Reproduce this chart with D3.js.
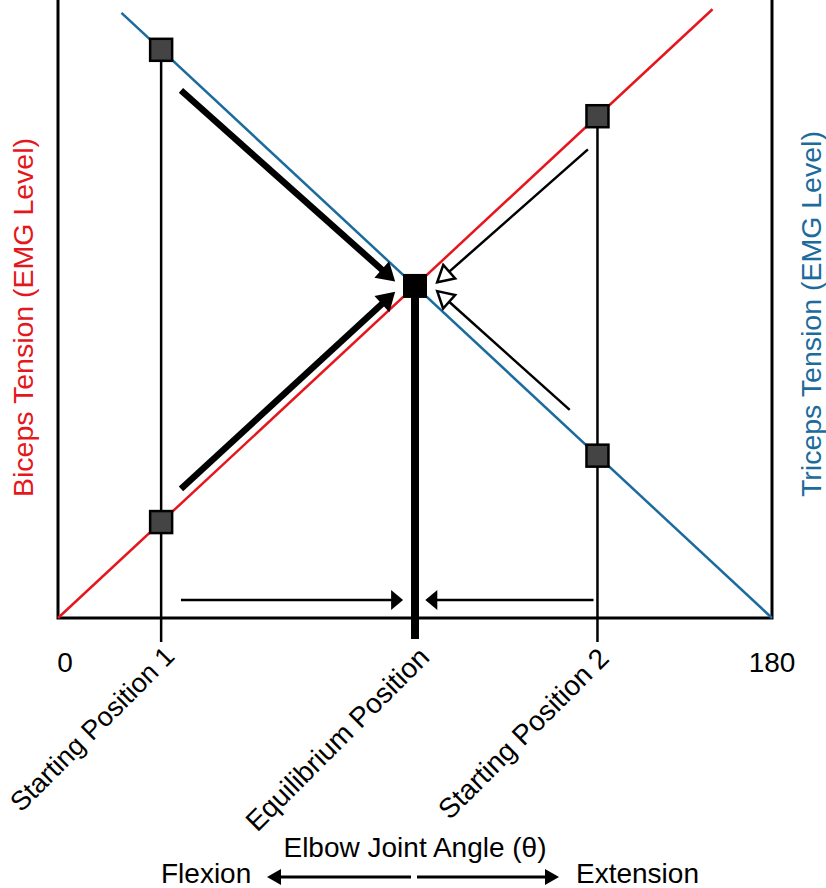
<!DOCTYPE html>
<html><head><meta charset="utf-8">
<script src="https://cdn.jsdelivr.net/npm/d3@7"></script>
<style>body{margin:0;background:#fff}svg{display:block}</style>
</head><body>
<svg id="c" width="826" height="888"></svg>
<script>
// ---- data ----
const angleDomain = [0, 180];
const tensionDomain = [0, 167.5];
const angleTickLabels = [{angle: 0, label: "0"}, {angle: 180, label: "180"}];
const positionNames = ["Starting Position 1", "Equilibrium Position", "Starting Position 2"];
const positionAngles = [26, 90, 136];
const bicepsLine = [[0, 0], [165, 165]];
const tricepsLine = [[16, 164], [180, 0]];
const startMarkers = [[26, 26], [26, 154], [136, 136], [136, 44]];
const equilibriumPoint = [90, 90];
// arrows: [from, to, type]
const arrowFrom = [[31, 143], [31, 35], [133.6, 127], [129, 56.4], [31, 4.9], [135, 4.9]];
const arrowTo = [[85, 91.2], [85, 88.4], [95.6, 91], [95.6, 88.6], [87, 4.9], [92.6, 4.9]];
const arrowType = ["thick", "thick", "open", "open", "flat", "flat"];
const titles = {biceps: "Biceps Tension (EMG Level)", triceps: "Triceps Tension (EMG Level)",
  x: "Elbow Joint Angle (\u03b8)", left: "Flexion", right: "Extension"};

// ---- layout ----
const svg = d3.select("#c");
const x = d3.scaleLinear().domain(angleDomain).range([58, 772]);
const y = d3.scaleLinear().domain(tensionDomain).range([618, 0]);
const RED = "#e5171d", BLUE = "#1b6b9c";
const FONT = "'Liberation Sans', Arial, sans-serif";
const FS = 28;
const line = d3.line().x(d => x(d[0])).y(d => y(d[1]));

// frame
svg.append("path").attr("d", `M${x(0)},0V${y(0)}H${x(180)}V0`)
  .attr("fill", "none").attr("stroke", "#000").attr("stroke-width", 3);

// tension lines
svg.append("path").attr("d", line(bicepsLine)).attr("stroke", RED).attr("stroke-width", 2.5).attr("fill", "none");
svg.append("path").attr("d", line(tricepsLine)).attr("stroke", BLUE).attr("stroke-width", 2.5).attr("fill", "none");

// vertical position lines
const tickBelow = 24;
[0, 2].forEach(i => {
  const px = x(positionAngles[i]);
  const top = d3.min(startMarkers.filter(m => m[0] === positionAngles[i]), m => y(m[1]));
  svg.append("line").attr("x1", px).attr("x2", px).attr("y1", top).attr("y2", y(0) + tickBelow)
    .attr("stroke", "#000").attr("stroke-width", 2.5);
});
svg.append("line").attr("x1", x(equilibriumPoint[0])).attr("x2", x(equilibriumPoint[0]))
  .attr("y1", y(equilibriumPoint[1])).attr("y2", y(0) + 21)
  .attr("stroke", "#000").attr("stroke-width", 8);

// arrows
function head(tip, u, L, W) {
  const n = [-u[1], u[0]];
  const b = [tip[0] - u[0] * L, tip[1] - u[1] * L];
  return [tip, [b[0] + n[0] * W / 2, b[1] + n[1] * W / 2], [b[0] - n[0] * W / 2, b[1] - n[1] * W / 2]];
}
arrowFrom.forEach((f, i) => {
  const p0 = [x(f[0]), y(f[1])], p1 = [x(arrowTo[i][0]), y(arrowTo[i][1])];
  const dx = p1[0] - p0[0], dy = p1[1] - p0[1], len = Math.hypot(dx, dy);
  const u = [dx / len, dy / len];
  const t = arrowType[i];
  const sw = t === "thick" ? 6.5 : 2.5;
  const L = t === "thick" ? 18 : (t === "open" ? 16 : 12);
  const W = t === "thick" ? 22 : (t === "open" ? 18 : 20);
  const endLen = t === "open" ? len - 4 : len - L + 2;
  svg.append("line").attr("x1", p0[0]).attr("y1", p0[1])
    .attr("x2", p0[0] + u[0] * endLen).attr("y2", p0[1] + u[1] * endLen)
    .attr("stroke", "#000").attr("stroke-width", sw);
  const h = head(p1, u, L, W);
  svg.append("path").attr("d", "M" + h.join("L") + "Z")
    .attr("fill", t === "open" ? "#fff" : "#000")
    .attr("stroke", "#000").attr("stroke-width", t === "open" ? 2.5 : 0)
    .attr("stroke-linejoin", "miter");
});

// markers
svg.selectAll("rect.m").data(startMarkers).join("rect").attr("class", "m")
  .attr("x", d => x(d[0]) - 11).attr("y", d => y(d[1]) - 11)
  .attr("width", 22).attr("height", 22)
  .attr("fill", "#444").attr("stroke", "#000").attr("stroke-width", 2.5);
svg.append("rect").attr("x", x(equilibriumPoint[0]) - 12).attr("y", y(equilibriumPoint[1]) - 12)
  .attr("width", 24).attr("height", 24).attr("fill", "#000");

// tick labels
svg.selectAll("text.t").data(angleTickLabels).join("text").attr("class", "t")
  .attr("x", d => x(d.angle) + (d.angle === 0 ? 7 : 0)).attr("y", 672)
  .attr("text-anchor", "middle").attr("font-family", FONT).attr("font-size", FS).text(d => d.label);

// rotated position labels
const labelOffset = [[15, 40], [16, 41], [13, 42]];
const labelSize = [27, FS, FS];
positionNames.forEach((name, i) => {
  const px = x(positionAngles[i]) + labelOffset[i][0], py = y(0) + labelOffset[i][1];
  svg.append("text").attr("transform", `translate(${px},${py}) rotate(-45)`)
    .attr("text-anchor", "end").attr("font-family", FONT).attr("font-size", labelSize[i]).text(name);
});

// y titles
svg.append("text").attr("transform", "translate(33,497) rotate(-90)")
  .attr("fill", RED).attr("font-family", FONT).attr("font-size", 28.5).text(titles.biceps);
svg.append("text").attr("transform", "translate(821,497) rotate(-90)")
  .attr("fill", BLUE).attr("font-family", FONT).attr("font-size", 28.5).text(titles.triceps);

// x title & direction arrows
svg.append("text").attr("x", x(90)).attr("y", 857).attr("text-anchor", "middle")
  .attr("font-family", FONT).attr("font-size", FS).text(titles.x);
svg.append("text").attr("x", 161).attr("y", 883).attr("font-family", FONT).attr("font-size", FS).text(titles.left);
svg.append("text").attr("x", 576).attr("y", 883).attr("font-family", FONT).attr("font-size", FS).text(titles.right);
[[411, 267], [417, 559]].forEach(([a, b]) => {
  const dir = Math.sign(b - a);
  svg.append("line").attr("x1", a).attr("x2", b - dir * 10).attr("y1", 877).attr("y2", 877)
    .attr("stroke", "#000").attr("stroke-width", 3);
  svg.append("path").attr("d", `M${b},877L${b - dir * 14},869L${b - dir * 14},885Z`).attr("fill", "#000");
});
</script>
</body></html>
